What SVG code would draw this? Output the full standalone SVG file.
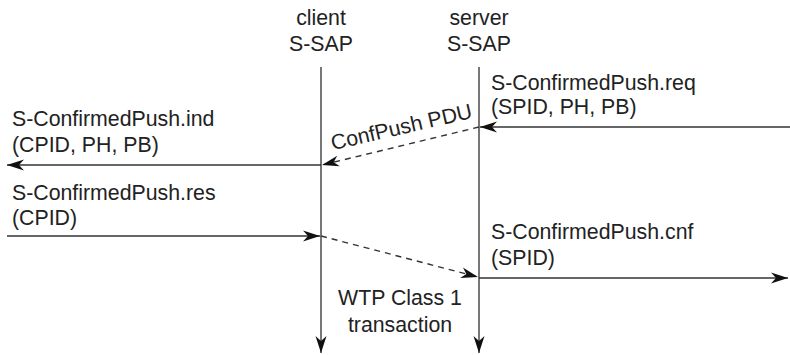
<svg xmlns="http://www.w3.org/2000/svg" width="790" height="355" viewBox="0 0 790 355">
<style>
text{font-family:"Liberation Sans",Arial,Helvetica,sans-serif;font-size:21.3px;fill:#222}
.mid{text-anchor:middle}
.line{stroke:#555;stroke-width:1.6;fill:none}
.msg{stroke:#333;stroke-width:1.4;fill:none}
.dash{stroke:#333;stroke-width:1.4;fill:none;stroke-dasharray:6 5}
</style>
<defs>
<marker id="ah" markerUnits="userSpaceOnUse" markerWidth="20" markerHeight="12" refX="17" refY="6" orient="auto">
<path d="M0,0.5 L17,6 L0,11.5 L5,6 Z" fill="#111"/>
</marker>
</defs>
<g id="client">
<text class="mid" x="321" y="25">client</text>
<text class="mid" x="321" y="51">S-SAP</text>
</g>
<g id="server">
<text class="mid" x="479" y="25">server</text>
<text class="mid" x="479" y="51">S-SAP</text>
</g>
<g id="connectors">
<line class="line" x1="321" y1="67" x2="321" y2="353" marker-end="url(#ah)"/>
<line class="line" x1="479" y1="67" x2="479" y2="353" marker-end="url(#ah)"/>
<line class="msg" x1="790" y1="127" x2="480" y2="127" marker-end="url(#ah)"/>
<line class="dash" x1="479" y1="127" x2="322" y2="165" marker-end="url(#ah)"/>
<line class="msg" x1="321" y1="165" x2="7" y2="165" marker-end="url(#ah)"/>
<line class="msg" x1="7" y1="236" x2="320" y2="236" marker-end="url(#ah)"/>
<line class="dash" x1="321" y1="236" x2="478" y2="277" marker-end="url(#ah)"/>
<line class="msg" x1="479" y1="278" x2="788" y2="278" marker-end="url(#ah)"/>
</g>
<g id="labels">
<text x="491" y="90">S-ConfirmedPush.req</text>
<text x="491" y="114">(SPID, PH, PB)</text>
<text x="12" y="126">S-ConfirmedPush.ind</text>
<text x="12" y="152">(CPID, PH, PB)</text>
<text class="mid" transform="translate(403,134) rotate(-13)">ConfPush PDU</text>
<text x="12" y="200">S-ConfirmedPush.res</text>
<text x="12" y="225">(CPID)</text>
<text x="491" y="239">S-ConfirmedPush.cnf</text>
<text x="491" y="265">(SPID)</text>
<text class="mid" x="400" y="305">WTP Class 1</text>
<text class="mid" x="400" y="332">transaction</text>
</g>
</svg>
